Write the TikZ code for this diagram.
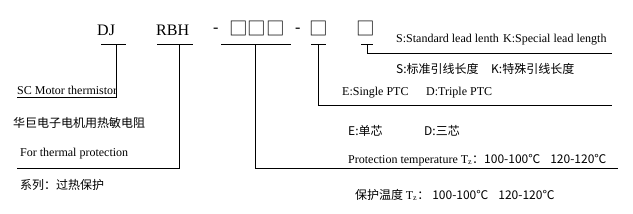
\documentclass[tikz,border=0pt]{standalone}
\usepackage{fontspec}
\setmainfont{Liberation Serif}
\newfontfamily\cjk{Noto Sans CJK SC}
\begin{document}
\begin{tikzpicture}[x=1pt,y=-1pt,
  head/.style={anchor=base west,inner sep=0pt,font=\fontsize{16}{18}\selectfont},
  boxes/.style={anchor=center,inner sep=0pt,font=\cjk\fontsize{18.5}{20}\selectfont},
  lbl/.style={anchor=base west,inner sep=0pt,font=\fontsize{12}{14}\selectfont},
  cjklbl/.style={anchor=base west,inner sep=0pt,font=\cjk\fontsize{12}{14}\selectfont},
  ln/.style={line width=0.9pt}]
\useasboundingbox (0,0) rectangle (633,214);
% header codes
\node[head] (dj) at (97,35) {DJ};
\node[head] (rbh) at (156,35) {RBH};
\node[head] (d1) at (213,32) {-};
\node[boxes] (b3) at (257,28.5) {□□□};
\node[head] (d2) at (295,32) {-};
\node[boxes] (b1) at (318.5,28.5) {□};
\node[boxes] (b2) at (365.5,28.5) {□};
% labels
\node[lbl] (sc) at (17,94) {SC Motor thermistor};
\node[cjklbl] (hj) at (13,127) {华巨电子电机用热敏电阻};
\node[lbl] (ftp) at (20,156) {For thermal protection};
\node[cjklbl] (xl) at (20,189) {系列：过热保护};
\node[lbl] (ss) at (396,42) {S:Standard lead lenth};
\node[lbl] (ks) at (503,42) {K:Special lead length};
\node[cjklbl] (sc2) at (396,74) {S:标准引线长度};
\node[cjklbl] (kc2) at (491,74) {K:特殊引线长度};
\node[lbl] (es) at (342,95) {E:Single PTC};
\node[lbl] (dt) at (426,95) {D:Triple PTC};
\node[cjklbl] (ec) at (348,135) {E:单芯};
\node[cjklbl] (dc) at (424,135) {D:三芯};
\node[lbl] (pt) at (348,163) {Protection temperature T\textsubscript{z}{\cjk ：100-100℃\hspace{10pt}120-120℃}};
\node[cjklbl] (bh) at (355,199) {保护温度 {\rmfamily T\textsubscript{z}}：\hspace{3pt}100-100℃\hspace{10pt}120-120℃};
% connectors
\coordinate (u1a) at (101,44); \coordinate (u1b) at (126,44); \coordinate (u1m) at (116,44);
\coordinate (c1) at (116,97); \coordinate (e1) at (17,97);
\coordinate (u2a) at (157,44); \coordinate (u2b) at (193,44); \coordinate (u2m) at (179,44);
\coordinate (c2) at (179,168); \coordinate (e2) at (17,168);
\coordinate (u3a) at (221,44); \coordinate (u3b) at (291,44); \coordinate (u3m) at (255,44);
\coordinate (c3) at (255,168); \coordinate (e3) at (618,168);
\coordinate (u4a) at (311,44); \coordinate (u4b) at (326,44); \coordinate (u4m) at (318,44);
\coordinate (c4) at (318,105); \coordinate (e4) at (612,105);
\coordinate (u5a) at (361,44); \coordinate (u5b) at (373,44); \coordinate (u5m) at (367,44);
\coordinate (c5) at (367,53); \coordinate (e5) at (612,53);
\draw[ln] (u1a) -- (u1b); \draw[ln] (u1m) -- (c1) -- (e1);
\draw[ln] (u2a) -- (u2b); \draw[ln] (u2m) -- (c2) -- (e2);
\draw[ln] (u3a) -- (u3b); \draw[ln] (u3m) -- (c3) -- (e3);
\draw[ln] (u4a) -- (u4b); \draw[ln] (u4m) -- (c4) -- (e4);
\draw[ln] (u5a) -- (u5b); \draw[ln] (u5m) -- (c5) -- (e5);
\end{tikzpicture}
\end{document}
